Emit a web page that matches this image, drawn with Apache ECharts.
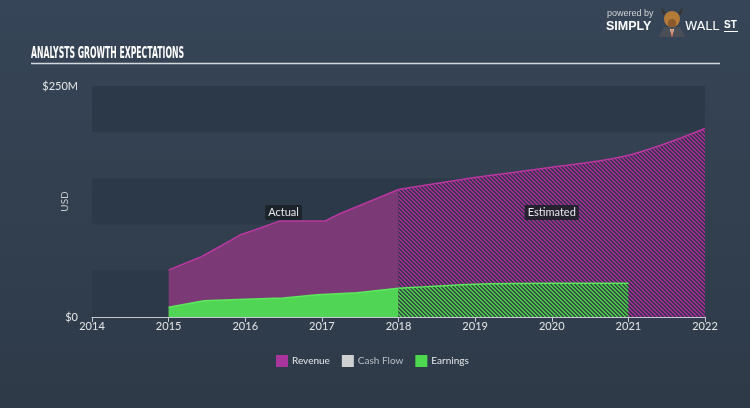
<!DOCTYPE html>
<html><head><meta charset="utf-8">
<script src="https://cdn.jsdelivr.net/npm/echarts@6/dist/echarts.min.js"></script>
<style>html,body{margin:0;padding:0;background:#313f4f;}#c{width:750px;height:408px;}</style>
</head><body><div id="c"></div>
<script>
// ---- data ----
const xTicks = [2014, 2015, 2016, 2017, 2018, 2019, 2020, 2021, 2022];
const revenueActualYears = [2015.0, 2015.41, 2015.61, 2015.93, 2016.19, 2016.45, 2017.04, 2017.24, 2018.0];
const revenueActual      = [51, 64.6, 73.6, 88.7, 96, 104, 104, 112, 138];
const revenueEstYears    = [2018, 2019, 2020, 2021, 2022];
const revenueEst         = [138, 151, 162, 175, 204];
const earningsActualYears = [2015.0, 2015.46, 2016.0, 2016.5, 2016.94, 2017.46, 2018.0];
const earningsActual      = [10.5, 17.6, 19.1, 20.5, 24.2, 26.3, 31];
const earningsEstYears    = [2018, 2019, 2020, 2021];
const earningsEst         = [31, 35.5, 36.5, 36.5];
const cashFlow = [];
const yTickLabels = {0: '$0', 250: '$250M'};

const pairs = (xs, ys) => xs.map((x, i) => [x, ys[i]]);

function hatch(bg, fg) {
  const c = document.createElement('canvas');
  c.width = 4; c.height = 4;
  const g = c.getContext('2d');
  g.fillStyle = bg; g.fillRect(0, 0, 4, 4);
  g.fillStyle = fg;
  for (let x = 0; x < 4; x++) for (let y = 0; y < 4; y++) {
    if ((((x - y) % 4) + 4) % 4 < 2) g.fillRect(x, y, 1, 1);
  }
  return { image: c, repeat: 'repeat' };
}

const titleText = 'ANALYSTS GROWTH EXPECTATIONS';
const titleFont = 'bold 16px "DejaVu Sans"';
const mctx = document.createElement('canvas').getContext('2d');
mctx.font = titleFont;
const titleScale = 153 / mctx.measureText(titleText).width;

const chart = echarts.init(document.getElementById('c'));
const labelBox = {
  show: true, color: '#e6e8ea', fontSize: 11, fontFamily: 'Lato',
  backgroundColor: 'rgba(26,30,38,0.85)', padding: [2, 3, 2, 3], borderRadius: 1,
  position: 'inside'
};

chart.setOption({
  backgroundColor: {
    type: 'linear', x: 0, y: 0, x2: 0, y2: 1,
    colorStops: [{offset: 0, color: '#364557'}, {offset: 1, color: '#2e3a48'}]
  },
  animation: false,
  grid: { left: 92, right: 45, top: 86, bottom: 91 },
  xAxis: {
    type: 'value', min: 2014, max: 2022, interval: 1,
    axisLine: { lineStyle: { color: '#c3c9d0', width: 1 } },
    axisTick: { show: true, length: 5, lineStyle: { color: '#c3c9d0' } },
    splitLine: { show: false },
    axisLabel: { color: '#e4e6e8', fontSize: 11, fontFamily: 'Lato', margin: 4,
      formatter: v => String(v) }
  },
  yAxis: {
    type: 'value', min: 0, max: 250, interval: 50,
    name: 'USD', nameLocation: 'middle', nameGap: 22, nameRotate: 90, nameMoveOverlap: false,
    nameTextStyle: { color: '#c9cdd2', fontSize: 10, fontFamily: 'Lato' },
    axisLine: { show: false }, axisTick: { show: false },
    splitLine: { show: false },
    splitArea: { show: true, areaStyle: { color: ['#2c3948', 'rgba(0,0,0,0)'] } },
    axisLabel: { color: '#e4e6e8', fontSize: 11, fontFamily: 'Lato', margin: 14,
      formatter: v => yTickLabels[v] || '' }
  },
  legend: {
    left: 271, top: 350, itemWidth: 12, itemHeight: 12, itemGap: 12, icon: 'rect',
    textStyle: { color: '#e4e6e8', fontSize: 10, fontFamily: 'Lato', padding: [0, 0, 0, -1] },
    data: [
      { name: 'Revenue' },
      { name: 'Cash Flow', textStyle: { color: '#b8bec5' } },
      { name: 'Earnings' }
    ]
  },
  series: [
    {
      name: 'Revenue', type: 'line', data: pairs(revenueActualYears, revenueActual),
      symbol: 'none', z: 2, itemStyle: { color: '#a8359c' },
      lineStyle: { color: '#b8389f', width: 1.5 },
      areaStyle: { color: '#7b3a76', opacity: 1 },
      markPoint: {
        symbol: 'rect', symbolSize: 0, silent: true,
        label: Object.assign({ formatter: 'Actual' }, labelBox),
        data: [{ coord: [2016.5, 113] }]
      }
    },
    {
      name: 'Revenue', type: 'line', data: pairs(revenueEstYears, revenueEst),
      symbol: 'none', smooth: 0.35, z: 2, itemStyle: { color: '#a8359c' },
      lineStyle: { color: '#b8389f', width: 1.5 },
      areaStyle: { color: hatch('#3b3350', '#9e2f90'), opacity: 1 },
      markPoint: {
        symbol: 'rect', symbolSize: 0, silent: true,
        label: Object.assign({ formatter: 'Estimated' }, labelBox),
        data: [{ coord: [2020, 113] }]
      }
    },
    {
      name: 'Cash Flow', type: 'line', data: cashFlow, symbol: 'none',
      itemStyle: { color: '#cfd0d2' }
    },
    {
      name: 'Earnings', type: 'line', data: pairs(earningsActualYears, earningsActual),
      symbol: 'none', z: 3, itemStyle: { color: '#4ed84f' },
      lineStyle: { color: '#5de85e', width: 1.5 },
      areaStyle: { color: '#50d654', opacity: 1 }
    },
    {
      name: 'Earnings', type: 'line', data: pairs(earningsEstYears, earningsEst),
      symbol: 'none', smooth: 0.3, z: 3, itemStyle: { color: '#4ed84f' },
      lineStyle: { color: '#5de85e', width: 1.5 },
      areaStyle: { color: hatch('#34503f', '#4cc64f'), opacity: 1 }
    }
  ],
  graphic: [
    { type: 'text', x: 31, y: 46, scaleX: titleScale,
      style: { text: titleText, font: titleFont, fill: '#ffffff' } },
    { type: 'line', shape: { x1: 31, y1: 63.5, x2: 720, y2: 63.5 },
      style: { stroke: '#d3d8dd', lineWidth: 1.5 } },
    { type: 'text', x: 607, y: 9,
      style: { text: 'powered by', font: '9px "Liberation Sans"', fill: '#d0d4d8' } },
    { type: 'text', x: 606, y: 20,
      style: { text: 'SIMPLY', font: 'bold 12.5px "Liberation Sans"', fill: '#ffffff' } },
    { type: 'polygon', shape: { points: [[659, 37], [664, 27], [680, 27], [685, 37]] },
      style: { fill: '#4a4f57' } },
    { type: 'polygon', shape: { points: [[670, 29], [674, 29], [672, 37]] },
      style: { fill: '#e8e8e8' } },
    { type: 'line', shape: { x1: 672, y1: 29, x2: 672, y2: 36 },
      style: { stroke: '#e0521f', lineWidth: 1.2 } },
    { type: 'circle', shape: { cx: 672, cy: 19, r: 8 }, style: { fill: '#b77b38' } },
    { type: 'circle', shape: { cx: 672, cy: 23, r: 4 }, style: { fill: '#8a5a2a' } },
    { type: 'polygon', shape: { points: [[663, 15], [661, 7], [666, 13]] }, style: { fill: '#3a3330' } },
    { type: 'polygon', shape: { points: [[681, 15], [683, 7], [678, 13]] }, style: { fill: '#3a3330' } },
    { type: 'text', x: 685, y: 20,
      style: { text: 'WALL', font: '12.5px "DejaVu Sans"', fill: '#ffffff' } },
    { type: 'text', x: 724, y: 20,
      style: { text: 'ST', font: 'bold 10px "Liberation Sans"', fill: '#ffffff' } },
    { type: 'line', shape: { x1: 724, y1: 31.5, x2: 738, y2: 31.5 },
      style: { stroke: '#ffffff', lineWidth: 1 } }
  ]
});
</script></body></html>
